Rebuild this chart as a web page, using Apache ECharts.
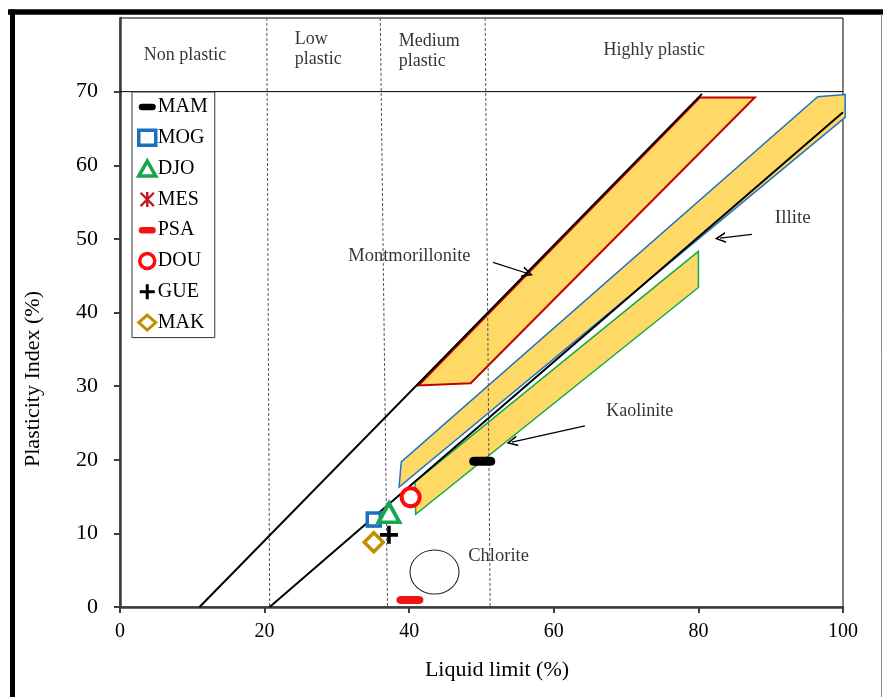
<!DOCTYPE html>
<html><head><meta charset="utf-8">
<script src="https://cdn.jsdelivr.net/npm/echarts@6/dist/echarts.min.js"></script>
<style>html,body{margin:0;padding:0;background:#fff}#c{width:883px;height:697px}</style>
</head><body><div id="c"></div>
<script>
// ---------- data ----------
const xTicks = [0, 20, 40, 60, 80, 100];
const yTicks = [0, 10, 20, 30, 40, 50, 60, 70];
const lineA = [[11.0, 0], [80.5, 69.7]];
const lineB = [[20.7, 0], [100, 67.2]];
const bandBottom = [[0, 70], [100, 70]];
const montmorillonite = [[41.3, 30.1], [80.2, 69.2], [87.8, 69.2], [48.5, 30.4]];
const illite = [[38.6, 16.3], [38.9, 19.7], [96.5, 69.3], [100.3, 69.6], [100.3, 66.5]];
const kaolinite = [[40.9, 12.6], [40.8, 17.0], [80.0, 48.3], [80.0, 43.4]];
const chlorite = [[43.5, 4.75]];
const zoneDividers = [[[20.3, 80], [20.7, 0]], [[36.0, 80], [37.0, 0]], [[50.5, 80], [51.2, 0]]];
const zoneNames = ['Non plastic', 'Low\nplastic', 'Medium\nplastic', 'Highly plastic'];
const zoneLabelPos = [[9.0, 75.0], [24.1, 75.7], [38.5, 75.5], [73.9, 75.6]];
const mineralNames = ['Montmorillonite', 'Illite', 'Kaolinite', 'Chlorite'];
const mineralLabelPos = [[31.5, 47.6], [90.5, 52.9], [67.2, 26.6], [48.1, 6.9]];
const arrows = [[[51.6, 46.8], [56.4, 45.3]], [[87.4, 50.6], [83.0, 50.1]], [[64.3, 24.6], [54.2, 22.4]]];
const sampleNames = ['MAM', 'MOG', 'DJO', 'MES', 'PSA', 'DOU', 'GUE', 'MAK'];
const MAM = [[50.1, 19.8]];
const MOG = [[35.1, 11.9]];
const DJO = [[37.2, 12.8]];
const MES = [[35.0, 11.5]];
const PSA = [[40.1, 0.95]];
const DOU = [[40.2, 14.9]];
const GUE = [[37.2, 9.8]];
const MAK = [[35.1, 8.8]];

// ---------- styles ----------
const SERIF = 'Liberation Serif';
const FILL = '#FFD966';
const barPath = 'path://M3.5,0 H14.5 Q18,0 18,3.5 Q18,7 14.5,7 H3.5 Q0,7 0,3.5 Q0,0 3.5,0 Z';
const plusPath = 'path://M8,0 H12 V8 H20 V12 H12 V20 H8 V12 H0 V8 H8 Z';
const starPath = 'path://M4.2,0 H5.8 V10 H4.2 Z M0,1.1 L1.1,0 L10,8.9 L8.9,10 Z M8.9,0 L10,1.1 L1.1,10 L0,8.9 Z';
const chevron = 'path://M5,0 L10,11 L8.4,11 L5,3.4 L1.6,11 L0,11 Z';

function poly(name, verts, stroke, lw) {
  return {
    type: 'custom', name: name, silent: true, z: 1, clip: false,
    data: [verts[0]],
    renderItem: function (params, api) {
      return {
        type: 'polygon',
        shape: { points: verts.map(function (v) { return api.coord(v); }) },
        style: { fill: FILL, stroke: stroke, lineWidth: lw }
      };
    }
  };
}
function straight(name, pts, color, width) {
  return { type: 'line', name: name, data: pts, symbol: 'none', silent: true, z: 3,
    lineStyle: { color: color, width: width } };
}

const markerDefs = {
  MAM: { data: MAM, symbol: barPath, size: [26, 9], style: { color: '#000' }, z: 6,
         legendIcon: barPath, legendStyle: { color: '#000' } },
  MOG: { data: MOG, symbol: 'rect', size: 13, style: { color: '#fff', borderColor: '#1c6fbe', borderWidth: 3.5 }, z: 7,
         legendIcon: 'rect', legendStyle: { color: '#fff', borderColor: '#1c6fbe', borderWidth: 3.5 } },
  DJO: { data: DJO, symbol: 'triangle', size: [21, 19], style: { color: '#fff', borderColor: '#14a84a', borderWidth: 3.8 }, z: 8,
         legendIcon: 'triangle', legendStyle: { color: '#fff', borderColor: '#14a84a', borderWidth: 3.5 } },
  MES: { data: MES, symbol: starPath, size: 11, style: { color: '#c0191e' }, z: 6,
         legendIcon: starPath, legendStyle: { color: '#c0191e' } },
  PSA: { data: PSA, symbol: barPath, size: [27, 8], style: { color: '#f01414' }, z: 6,
         legendIcon: barPath, legendStyle: { color: '#f01414' } },
  DOU: { data: DOU, symbol: 'circle', size: 18, style: { color: '#fff', borderColor: '#ff0a0a', borderWidth: 4 }, z: 8,
         legendIcon: 'circle', legendStyle: { color: '#fff', borderColor: '#ff0a0a', borderWidth: 3.5 } },
  GUE: { data: GUE, symbol: plusPath, size: 18, style: { color: '#000' }, z: 7,
         legendIcon: plusPath, legendStyle: { color: '#000' } },
  MAK: { data: MAK, symbol: 'diamond', size: 19, style: { color: '#fff', borderColor: '#bf8f00', borderWidth: 3.5 }, z: 6,
         legendIcon: 'diamond', legendStyle: { color: '#fff', borderColor: '#bf8f00', borderWidth: 3 } }
};
Object.keys(markerDefs).forEach(function (k) {
  markerDefs[k].style.opacity = 1;
  markerDefs[k].legendStyle.opacity = 1;
});

const series = [
  poly('Montmorillonite zone', montmorillonite, '#c00000', 2),
  poly('Illite zone', illite, '#1f72c4', 1.5),
  poly('Kaolinite zone', kaolinite, '#12a84a', 1.5),
  straight('lineA', lineA, '#000', 2),
  straight('lineB', lineB, '#000', 2),
  straight('band', bandBottom, '#000', 1),
  {
    type: 'lines', coordinateSystem: 'cartesian2d', silent: true, z: 2,
    data: zoneDividers.map(function (c) { return { coords: c }; }),
    lineStyle: { color: '#555', width: 1, type: [3, 2], opacity: 1 }, symbol: 'none'
  },
  {
    type: 'lines', coordinateSystem: 'cartesian2d', silent: true, z: 4,
    data: arrows.map(function (c) { return { coords: c }; }),
    lineStyle: { color: '#000', width: 1.2, opacity: 1 }, symbol: ['none', chevron], symbolSize: [9, 11]
  },
  {
    type: 'scatter', name: 'Chlorite zone', silent: true, z: 3, data: chlorite,
    symbol: 'circle', symbolSize: [49, 44],
    itemStyle: { color: 'rgba(0,0,0,0)', borderColor: '#222', borderWidth: 1, opacity: 1 }
  },
  {
    type: 'scatter', silent: true, z: 9, symbolSize: 1, itemStyle: { color: 'rgba(0,0,0,0)' },
    data: zoneNames.map(function (n, i) {
      const centered = (i === 0 || i === 3);
      return { value: zoneLabelPos[i], label: {
        show: true, formatter: n, position: centered ? 'inside' : 'right', distance: 0,
        align: centered ? 'center' : 'left', verticalAlign: 'middle',
        fontFamily: SERIF, fontSize: 18, lineHeight: 20, color: '#000' } };
    })
  },
  {
    type: 'scatter', silent: true, z: 9, symbolSize: 1, itemStyle: { color: 'rgba(0,0,0,0)' },
    data: mineralNames.map(function (n, i) {
      const fs = [18.5, 19, 18, 18.5][i];
      return { value: mineralLabelPos[i], label: {
        show: true, formatter: n, position: 'right', distance: 0,
        fontFamily: SERIF, fontSize: fs, color: '#000' } };
    })
  }
];
sampleNames.forEach(function (n) {
  const d = markerDefs[n];
  series.push({ type: 'scatter', name: n, data: d.data, symbol: d.symbol, symbolSize: d.size,
    symbolKeepAspect: false, itemStyle: d.style, z: d.z });
});

const chart = echarts.init(document.getElementById('c'), null, { renderer: 'canvas' });
chart.setOption({
  animation: false,
  backgroundColor: '#fff',
  grid: { left: 120, right: 40, top: 18, bottom: 90, show: true, borderColor: '#000', borderWidth: 1, backgroundColor: 'transparent' },
  xAxis: {
    type: 'value', min: 0, max: 100, interval: 20,
    axisLine: { show: true, lineStyle: { color: '#3c3c3c', width: 2.5 } },
    axisTick: { show: true, length: 6, lineStyle: { color: '#3c3c3c', width: 2 } },
    splitLine: { show: false },
    axisLabel: { margin: 15, fontFamily: SERIF, fontSize: 20, color: '#000' }
  },
  yAxis: {
    type: 'value', min: 0, max: 80, interval: 10,
    axisLine: { show: true, lineStyle: { color: '#3c3c3c', width: 2.5 } },
    axisTick: { show: true, length: 6, customValues: yTicks, lineStyle: { color: '#3c3c3c', width: 2 } },
    splitLine: { show: false },
    axisLabel: { margin: 22, customValues: yTicks, fontFamily: SERIF, fontSize: 22, color: '#000',
      formatter: function (v) { return v > 70 ? '' : String(v); } }
  },
  legend: {
    orient: 'vertical', left: 132, top: 92,
    data: sampleNames.map(function (n) {
      return { name: n, icon: markerDefs[n].legendIcon, itemStyle: markerDefs[n].legendStyle };
    }),
    itemWidth: 17, itemHeight: 15, itemGap: 10.8, symbolKeepAspect: true,
    padding: [5, 7, 5, 5],
    borderColor: '#333', borderWidth: 1, backgroundColor: '#fff',
    textStyle: { fontFamily: SERIF, fontSize: 20, lineHeight: 20, color: '#000', padding: [0, 0, 0, -3] },
    selectedMode: false
  },
  graphic: [
    { type: 'text', x: 497, y: 670, style: { text: 'Liquid limit (%)', font: '22px "Liberation Serif"', fill: '#000', textAlign: 'center', textVerticalAlign: 'middle' } },
    { type: 'text', x: 33, y: 379, rotation: Math.PI / 2, style: { text: 'Plasticity Index (%)', font: '22px "Liberation Serif"', fill: '#000', textAlign: 'center', textVerticalAlign: 'middle' } },
    { type: 'line', shape: { x1: 8, y1: 12, x2: 883, y2: 12 }, style: { stroke: '#000', lineWidth: 5.5 } },
    { type: 'line', shape: { x1: 12.5, y1: 9.5, x2: 12.5, y2: 697 }, style: { stroke: '#000', lineWidth: 5 } },
    { type: 'line', shape: { x1: 881.5, y1: 14, x2: 881.5, y2: 697 }, style: { stroke: '#888', lineWidth: 1 } }
  ],
  series: series
});
</script>
</body></html>
